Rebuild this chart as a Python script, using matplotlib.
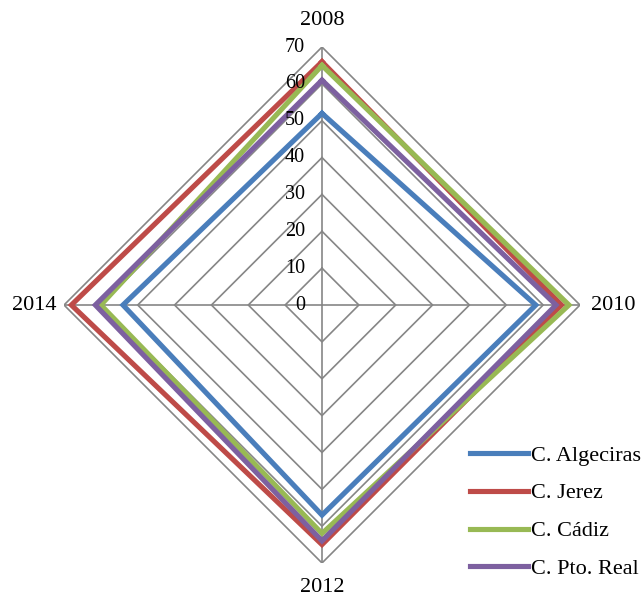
import numpy as np
import matplotlib
matplotlib.use("Agg")
import matplotlib.pyplot as plt
from matplotlib.transforms import offset_copy

plt.rcParams['font.family'] = ['Liberation Serif', 'DejaVu Serif']

years = ['2008', '2010', '2012', '2014']
algeciras = [52, 58, 57, 54]
jerez = [66, 65, 65, 68]
cadiz = [65, 67, 62, 60]
pto_real = [61, 63.5, 64, 61.5]
series_names = ['C. Algeciras', 'C. Jerez', 'C. Cádiz', 'C. Pto. Real']
colors = ['#4A7EBB', '#BE4B48', '#98B954', '#7D60A0']
rings = [0, 10, 20, 30, 40, 50, 60, 70]

fig = plt.figure(figsize=(6.44, 5.99), dpi=100)
ax = fig.add_axes([0.0994, 0.0601, 0.8012, 0.8614], projection='polar')
ax.set_theta_offset(np.pi / 2)
ax.set_theta_direction(-1)
ax.set_ylim(0, 70)
ax.grid(False)
ax.spines['polar'].set_visible(False)
ax.set_xticks([])
ax.set_yticks([])

ang = np.arange(len(years)) * 2 * np.pi / len(years)
ang_c = np.append(ang, ang[0])

# polygon grid
for r in rings[1:]:
    ax.plot(ang_c, [r] * len(ang_c), color='#868686', lw=1.2, zorder=1)
for a in ang:
    ax.plot([a, a], [0, 70], color='#868686', lw=1.2, zorder=1)

for vals, name, c in zip([algeciras, jerez, cadiz, pto_real], series_names, colors):
    v = np.append(vals, vals[0])
    ax.plot(ang_c, v, color=c, lw=3.7, label=name, solid_joinstyle='miter', zorder=3)

# radial tick labels
tr = offset_copy(ax.transData, fig=fig, x=-17, y=0, units='dots')
for r in rings:
    ax.text(0, r, str(r), transform=tr, ha='right', va='center', fontsize=14.5, zorder=4)

# category labels
offsets = [(0, 27, 'center', 'center'), (11, 0, 'left', 'center'),
           (0, -25, 'center', 'center'), (-8, 0, 'right', 'center')]
for a, lab, (dx, dy, ha, va) in zip(ang, years, offsets):
    t = offset_copy(ax.transData, fig=fig, x=dx, y=dy, units='dots')
    ax.text(a, 70, lab, transform=t, ha=ha, va=va, fontsize=16)

fig.legend(loc='upper left', bbox_to_anchor=(470 / 644, 1 - 445 / 599),
           frameon=False, fontsize=16, handlelength=2.6, handletextpad=0.15,
           labelspacing=0.78, borderaxespad=0, borderpad=0)

fig.savefig('out.png', dpi=100)
